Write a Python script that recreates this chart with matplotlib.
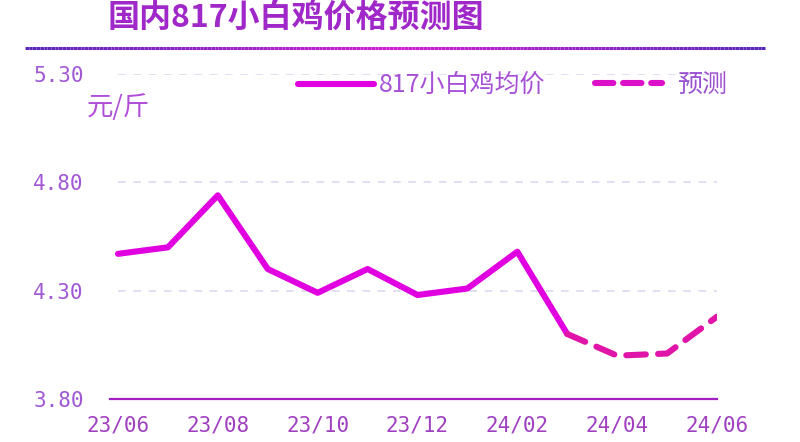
import matplotlib
matplotlib.use("Agg")
import matplotlib.pyplot as plt
from matplotlib.lines import Line2D
from matplotlib.collections import LineCollection
from matplotlib.colors import LinearSegmentedColormap
import numpy as np

plt.rcParams['font.family'] = ['Noto Sans CJK SC', 'DejaVu Sans']

# ---- data ----
months = ["23/06", "23/07", "23/08", "23/09", "23/10", "23/11", "23/12",
          "24/01", "24/02", "24/03", "24/04", "24/05", "24/06"]
actual = [4.47, 4.50, 4.74, 4.40, 4.29, 4.40, 4.28, 4.31, 4.48, 4.10]
forecast = [4.10, 4.00, 4.01, 4.18]
forecast_start = 9
tick_labels = ["23/06", "23/08", "23/10", "23/12", "24/02", "24/04", "24/06"]
y_ticks = [3.80, 4.30, 4.80, 5.30]
title = "国内817小白鸡价格预测图"
unit = "元/斤"
legend_actual = "817小白鸡均价"
legend_forecast = "预测"

W, H = 800, 442
fig = plt.figure(figsize=(8, 4.42), dpi=100)
fig.patch.set_facecolor("white")

def fx(px):
    return px / W

def fy(py):
    return 1 - py / H

ax = fig.add_axes([fx(110), fy(399), fx(717) - fx(110), fy(74) - fy(399)])
ax.set_xlim(-0.16, len(months) - 1)
ax.set_ylim(y_ticks[0], y_ticks[-1])

# grid lines
for yv in y_ticks[1:]:
    ax.hlines(yv, 0, len(months) - 1, colors="#dcd4f2", linewidth=1.1,
              linestyles=(0, (5, 5)), zorder=1)

x_act = np.arange(len(actual))
x_fc = np.arange(forecast_start, forecast_start + len(forecast))
ax.plot(x_act, actual, color="#e000e0", linewidth=4.4, solid_capstyle="round",
        solid_joinstyle="round", zorder=3)
ax.plot(x_fc, forecast, color="#e014a8", linewidth=4.4, dashes=(3.2, 2.0),
        dash_capstyle="round", zorder=3)

for s in ["top", "right", "left"]:
    ax.spines[s].set_visible(False)
ax.spines["bottom"].set_color("#a020c0")
ax.spines["bottom"].set_linewidth(1.6)

ax.set_yticks(y_ticks)
ax.set_yticklabels([f"{v:.2f}" for v in y_ticks], family="DejaVu Sans Mono",
                   fontsize=15, color="#a058d4")
tick_pos = [months.index(t) for t in tick_labels]
ax.set_xticks(tick_pos)
ax.set_xticklabels(tick_labels, family="DejaVu Sans Mono", fontsize=15,
                   color="#a040c0")
ax.tick_params(axis="y", length=0, pad=19)
ax.tick_params(axis="x", length=0, pad=12)

# unit label
fig.text(fx(87), fy(107), unit, fontsize=19, color="#b050d8",
         ha="left", va="center")

# title
fig.text(fx(108), fy(19), title, fontsize=23, fontweight="bold",
         color="#a028c8", ha="left", va="center")

# gradient rule under the title
xs = np.linspace(fx(25), fx(765), 200)
pts = np.array([[x, fy(48)] for x in xs])
segs = np.stack([pts[:-1], pts[1:]], axis=1)
cmap = LinearSegmentedColormap.from_list("rule", ["#5a28b8", "#d020d0", "#5a28b8"])
lc = LineCollection(segs, colors=cmap(np.linspace(0, 1, len(segs))),
                    linewidths=2.2, transform=fig.transFigure)
fig.add_artist(lc)

# legend
fig.add_artist(Line2D([fx(298), fx(374)], [fy(84), fy(84)], color="#e000e0",
                      linewidth=4.4, solid_capstyle="round",
                      transform=fig.transFigure))
fig.text(fx(379), fy(85), legend_actual, fontsize=18, color="#a650d6",
         ha="left", va="center")
fig.add_artist(Line2D([fx(595), fx(662)], [fy(83), fy(83)], color="#dc10c8",
                      linewidth=4.4, dashes=(3.0, 1.6), dash_capstyle="round",
                      transform=fig.transFigure))
fig.text(fx(677), fy(85), legend_forecast, fontsize=18, color="#9a50d0",
         ha="left", va="center")

fig.savefig("out.png", dpi=100, facecolor="white")
